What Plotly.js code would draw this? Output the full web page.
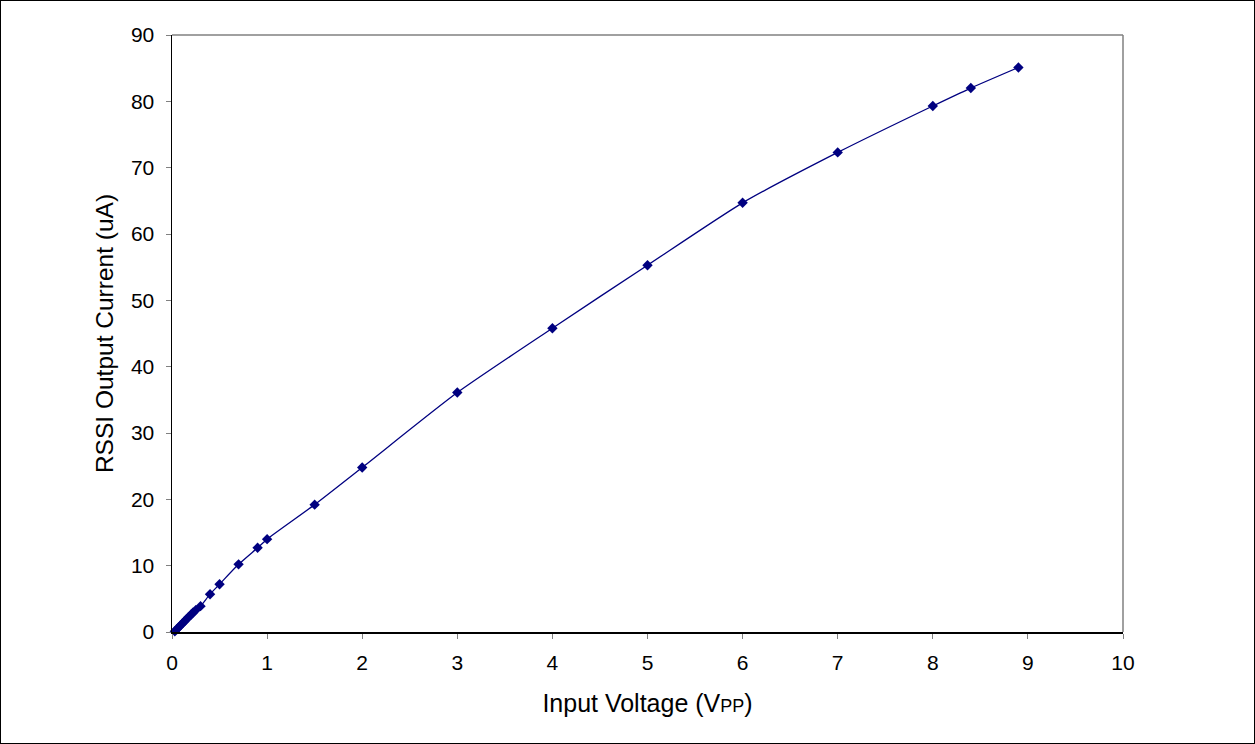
<!DOCTYPE html>
<html>
<head>
<meta charset="utf-8">
<script src="https://cdn.plot.ly/plotly-3.0.1.min.js"></script>
<style>
html,body{margin:0;padding:0;background:#fff;}
#chart{width:1255px;height:744px;box-sizing:border-box;border:1px solid #000;}
</style>
</head>
<body>
<div id="chart"></div>
<script>
const inputVoltage = [0.03,0.05,0.07,0.09,0.11,0.13,0.15,0.17,0.2,0.22,0.25,0.3,0.4,0.5,0.7,0.9,1,1.5,2,3,4,5,6,7,8,8.4,8.9];
const rssiCurrent  = [0.1,0.4,0.7,1.0,1.3,1.6,1.9,2.2,2.6,2.9,3.3,3.9,5.7,7.2,10.2,12.7,14.0,19.2,24.8,36.1,45.8,55.3,64.7,72.3,79.3,82.0,85.1];
const xTitle = 'Input Voltage (V<span style="font-size:18px">PP</span>)';
const yTitle = 'RSSI Output Current (uA)';

const trace = {
  x: inputVoltage, y: rssiCurrent,
  type: 'scatter', mode: 'lines+markers',
  line: {color: '#000080', width: 1.3, shape: 'spline', smoothing: 0.6},
  marker: {symbol: 'diamond', size: 8, color: '#000080'},
  cliponaxis: false
};
const fontFam = 'Liberation Sans, Arial, sans-serif';
const layout = {
  width: 1253, height: 742,
  margin: {l: 171, r: 131, t: 34, b: 111},
  paper_bgcolor: '#fff', plot_bgcolor: '#fff',
  showlegend: false,
  font: {family: fontFam, size: 21, color: '#000'},
  xaxis: {
    range: [0, 10], dtick: 1, tick0: 0,
    showgrid: false, zeroline: false,
    showline: true, linecolor: '#000', linewidth: 1.5,
    ticks: 'outside', ticklen: 5, tickcolor: '#808080', tickwidth: 1,
    ticklabelstandoff: 6,
    tickfont: {family: fontFam, size: 21, color: '#000'},
    title: {text: xTitle, font: {family: fontFam, size: 25, color: '#000'}, standoff: 22}
  },
  yaxis: {
    range: [0, 90], dtick: 10, tick0: 0,
    showgrid: false, zeroline: false,
    showline: true, linecolor: '#000', linewidth: 1.5,
    ticks: 'outside', ticklen: 5, tickcolor: '#808080', tickwidth: 1,
    ticklabelstandoff: 7,
    tickfont: {family: fontFam, size: 21, color: '#000'},
    title: {text: yTitle, font: {family: fontFam, size: 24.5, color: '#000'}, standoff: 10}
  },
  shapes: [
    {type: 'line', xref: 'paper', yref: 'paper', x0: 0, x1: 1, y0: 1, y1: 1, line: {color: '#808080', width: 1.5}},
    {type: 'line', xref: 'paper', yref: 'paper', x0: 1, x1: 1, y0: 0, y1: 1, line: {color: '#808080', width: 1.5}}
  ]
};
Plotly.newPlot('chart', [trace], layout, {displayModeBar: false, staticPlot: true});
</script>
</body>
</html>
